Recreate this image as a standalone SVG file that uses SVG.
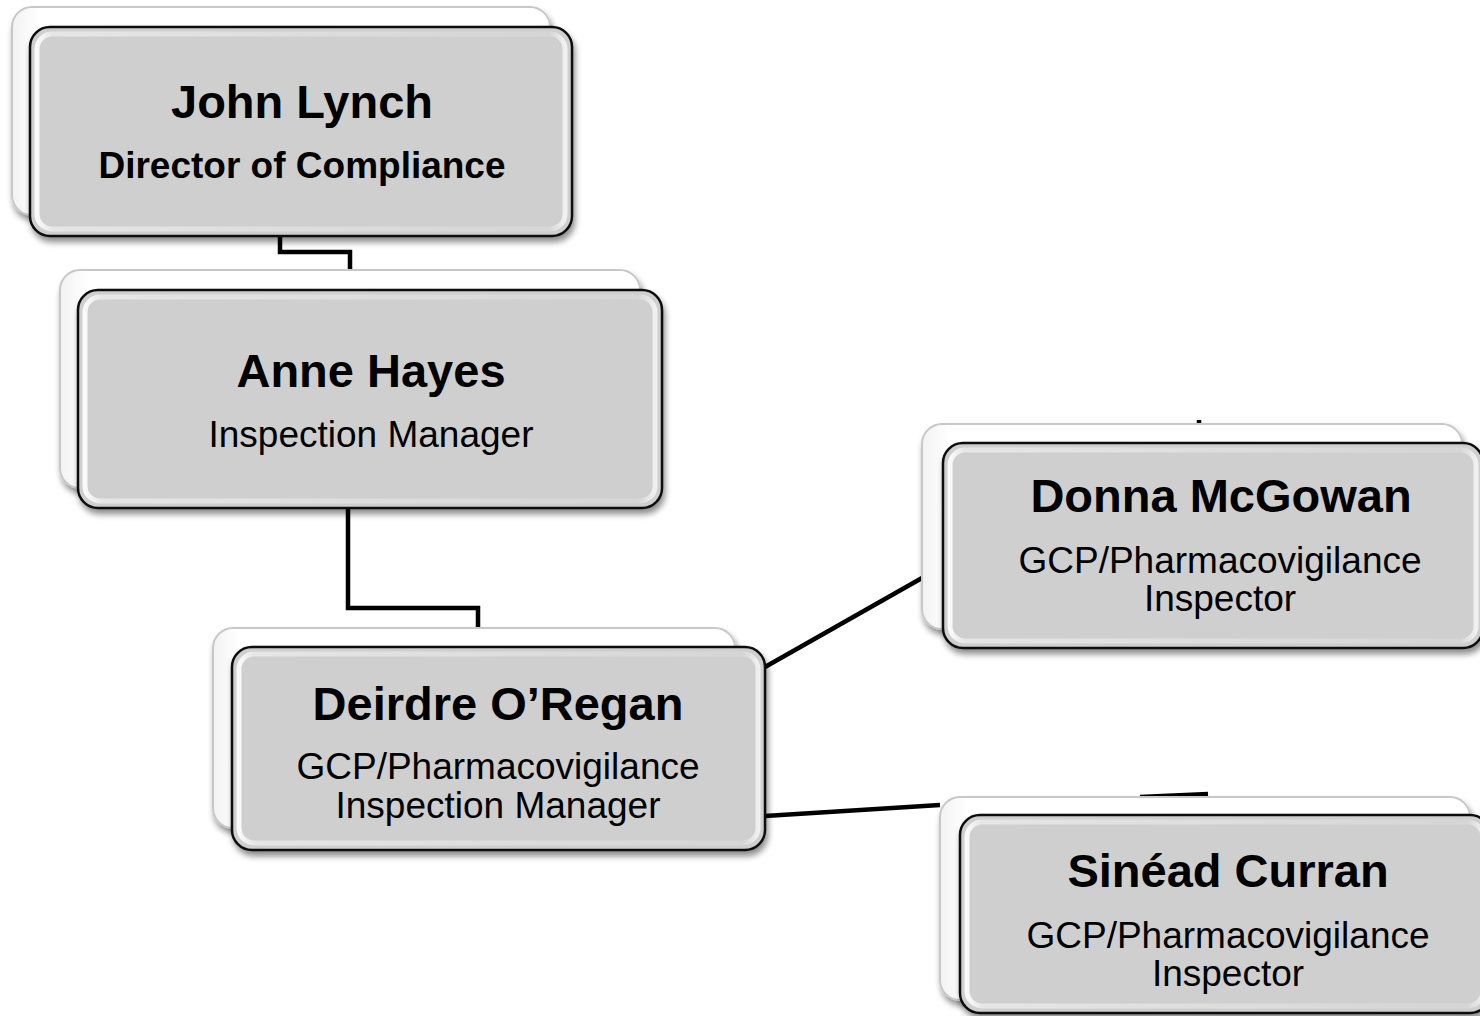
<svg xmlns="http://www.w3.org/2000/svg" width="1480" height="1016" viewBox="0 0 1480 1016">
<defs>
  <filter id="sh" x="-10%" y="-10%" width="120%" height="130%">
    <feGaussianBlur in="SourceAlpha" stdDeviation="3"/>
    <feOffset dx="2" dy="5" result="b"/>
    <feComponentTransfer><feFuncA type="linear" slope="0.45"/></feComponentTransfer>
    <feMerge><feMergeNode/><feMergeNode in="SourceGraphic"/></feMerge>
  </filter>
  <linearGradient id="bevel" x1="0" y1="0" x2="1" y2="0">
    <stop offset="0" stop-color="#ffffff"/>
    <stop offset="0.03" stop-color="#e8e8e8"/>
    <stop offset="0.97" stop-color="#d6d6d6"/>
    <stop offset="1" stop-color="#f4f4f4"/>
  </linearGradient>
  <linearGradient id="backg" x1="0" y1="0" x2="1" y2="0">
    <stop offset="0" stop-color="#f2f2f2"/>
    <stop offset="0.05" stop-color="#ffffff"/>
    <stop offset="1" stop-color="#ffffff"/>
  </linearGradient>
</defs>
<style>
  .back{fill:url(#backg);stroke:#c8c8c8;stroke-width:2;filter:url(#sh)}
  .front{fill:#cfcfcf;stroke:#111;stroke-width:2.5;filter:url(#sh)}
  .inner{fill:none;stroke:url(#bevel);stroke-width:5;opacity:0.9}
  .name{font-family:"Liberation Sans",Arial,sans-serif;font-weight:bold;font-size:47px;fill:#000;text-anchor:middle}
  .role{font-family:"Liberation Sans",Arial,sans-serif;font-size:37px;fill:#000;text-anchor:middle}
  .roleb{font-family:"Liberation Sans",Arial,sans-serif;font-weight:bold;font-size:37px;fill:#000;text-anchor:middle}
  .conn{fill:none;stroke:#000;stroke-width:4.5;stroke-linejoin:miter}
</style>
<rect width="1480" height="1016" fill="#ffffff"/>

<g id="connectors">
  <path class="conn" d="M280 236 V252 H350 V270"/>
  <path class="conn" d="M348 508 V608 H478 V628"/>
  <path class="conn" d="M765 667 L922 578"/>
  <path class="conn" d="M765 816 L940 805"/>
  <path class="conn" d="M1199 420 V425" stroke-width="2"/>
  <path class="conn" d="M1140 797 L1208 794" stroke-width="3"/>
</g>

<g id="node-john">
  <rect class="back" x="12" y="7" width="538" height="208" rx="20"/>
  <rect class="front" x="30" y="27" width="542" height="209" rx="20"/>
  <rect class="inner" x="37" y="34" width="528" height="195" rx="15"/>
  <text class="name" x="302" y="118">John Lynch</text>
  <text class="roleb" x="302" y="178">Director of Compliance</text>
</g>

<g id="node-anne">
  <rect class="back" x="60" y="270" width="580" height="218" rx="20"/>
  <rect class="front" x="78" y="290" width="584" height="218" rx="20"/>
  <rect class="inner" x="85" y="297" width="570" height="204" rx="15"/>
  <text class="name" x="371" y="387">Anne Hayes</text>
  <text class="role" x="371" y="447">Inspection Manager</text>
</g>

<g id="node-deirdre">
  <rect class="back" x="213" y="628" width="522" height="200" rx="20"/>
  <rect class="front" x="232" y="647" width="533" height="203" rx="20"/>
  <rect class="inner" x="239" y="654" width="519" height="189" rx="15"/>
  <text class="name" x="498" y="720">Deirdre O’Regan</text>
  <text class="role" x="498" y="779">GCP/Pharmacovigilance</text>
  <text class="role" x="498" y="818">Inspection Manager</text>
</g>

<g id="node-donna">
  <rect class="back" x="922" y="424" width="540" height="205" rx="20"/>
  <rect class="front" x="943" y="443" width="540" height="205" rx="20"/>
  <rect class="inner" x="950" y="450" width="526" height="191" rx="15"/>
  <text class="name" x="1221" y="512">Donna McGowan</text>
  <text class="role" x="1220" y="573">GCP/Pharmacovigilance</text>
  <text class="role" x="1220" y="611">Inspector</text>
</g>

<g id="node-sinead">
  <rect class="back" x="940" y="797" width="530" height="203" rx="20"/>
  <rect class="front" x="960" y="815" width="530" height="198" rx="20"/>
  <rect class="inner" x="967" y="822" width="516" height="184" rx="15"/>
  <text class="name" x="1228" y="887">Sinéad Curran</text>
  <text class="role" x="1228" y="948">GCP/Pharmacovigilance</text>
  <text class="role" x="1228" y="986">Inspector</text>
</g>
</svg>
